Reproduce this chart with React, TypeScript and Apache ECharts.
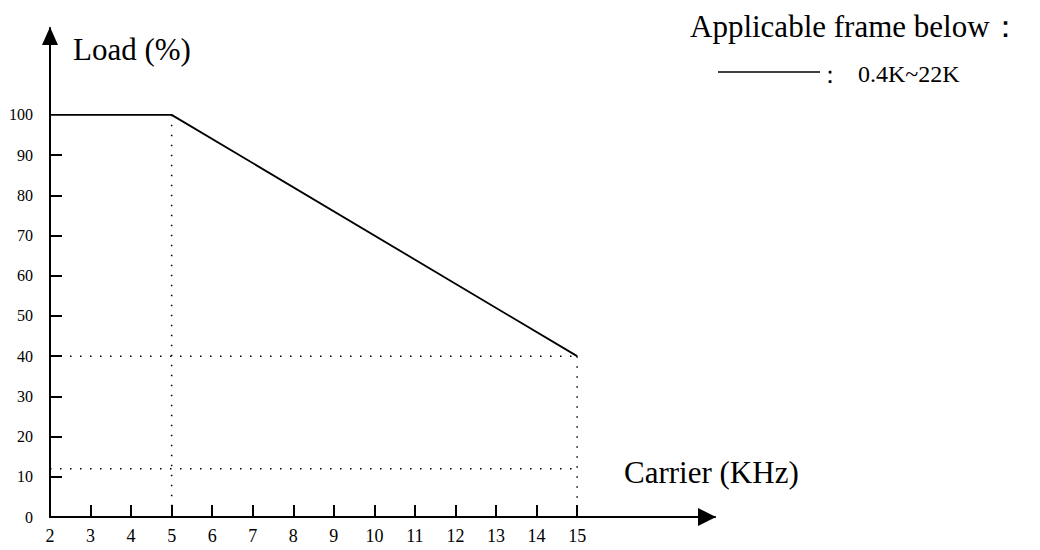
import React, { useEffect, useRef } from "react";
import * as echarts from "echarts";

const xTickValues = [3, 4, 5, 6, 7, 8, 9, 10, 11, 12, 13, 14, 15];
const xLabelValues = [2, 3, 4, 5, 6, 7, 8, 9, 10, 11, 12, 13, 14, 15];
const yTickValues = [10, 20, 30, 40, 50, 60, 70, 80, 90];
const yLabelValues = [0, 10, 20, 30, 40, 50, 60, 70, 80, 90, 100];
const loadCurve = [[2, 100], [5, 100], [15, 40]];
const guideA = [[5, 100], [5, 0]];
const guideB = [[2, 40], [15, 40]];
const guideC = [[15, 40], [15, 0]];
const guideD = [[2, 12], [15, 12]];
const yName = "Load (%)";
const xName = "Carrier (KHz)";
const legendTitle = "Applicable frame below：";
const legendItem = "：";
const legendRange = "0.4K~22K";

const FONT = "Liberation Serif";

export default function App() {
  const ref = useRef<HTMLDivElement>(null);
  useEffect(() => {
    if (!ref.current) return;
    const chart = echarts.init(ref.current, null, { renderer: "svg" });
    const dotted = (data: number[][]) => ({
      type: "line",
      data,
      symbol: "none",
      silent: true,
      lineStyle: { color: "#000", width: 1.5, type: [1.5, 8.5] },
    });
    chart.setOption({
      animation: false,
      backgroundColor: "#fff",
      grid: { left: 50, right: 325, top: 28, bottom: 33, containLabel: false },
      xAxis: {
        type: "value",
        min: 2,
        max: 18.4,
        splitLine: { show: false },
        axisLine: {
          show: true,
          lineStyle: { color: "#000", width: 2 },
          symbol: ["none", "triangle"],
          symbolSize: [18, 18],
          symbolOffset: [0, -8],
        },
        axisTick: {
          show: true,
          inside: true,
          length: 12,
          lineStyle: { color: "#000", width: 2 },
          customValues: xTickValues,
        },
        axisLabel: {
          show: true,
          color: "#000",
          fontFamily: FONT,
          fontSize: 18,
          margin: 10,
          customValues: xLabelValues,
        },
      },
      yAxis: {
        type: "value",
        min: 0,
        max: 121.6,
        splitLine: { show: false },
        axisLine: {
          show: true,
          lineStyle: { color: "#000", width: 2 },
          symbol: ["none", "triangle"],
          symbolSize: [16, 18],
          symbolOffset: [0, -8],
        },
        axisTick: {
          show: true,
          inside: true,
          length: 12,
          lineStyle: { color: "#000", width: 2 },
          customValues: yTickValues,
        },
        axisLabel: {
          show: true,
          color: "#000",
          fontFamily: FONT,
          fontSize: 16,
          margin: 17,
          customValues: yLabelValues,
        },
      },
      graphic: [
        { type: "text", x: 73, y: 49, style: { text: yName, font: `31px '${FONT}'`, fill: "#000", verticalAlign: "middle" } },
        { type: "text", x: 624, y: 472, style: { text: xName, font: `31px '${FONT}'`, fill: "#000", verticalAlign: "middle" } },
        { type: "text", x: 690, y: 26, style: { text: legendTitle, font: `31px '${FONT}'`, fill: "#000", verticalAlign: "middle" } },
        { type: "line", shape: { x1: 718, y1: 72, x2: 820, y2: 72 }, style: { stroke: "#000", lineWidth: 1.5 } },
        { type: "text", x: 818, y: 75, style: { text: legendItem, font: `24px '${FONT}'`, fill: "#000", verticalAlign: "middle" } },
        { type: "text", x: 858, y: 74, style: { text: legendRange, font: `24px '${FONT}'`, fill: "#000", verticalAlign: "middle" } },
      ],
      series: [
        {
          type: "line",
          data: loadCurve,
          symbol: "none",
          lineStyle: { color: "#000", width: 1.8 },
        },
        dotted(guideA),
        dotted(guideB),
        dotted(guideC),
        dotted(guideD),
      ],
    });
    return () => chart.dispose();
  }, []);
  return (
    <div
      ref={ref}
      style={{ position: "fixed", left: 0, top: 0, width: 1040, height: 550, background: "#fff" }}
    />
  );
}
